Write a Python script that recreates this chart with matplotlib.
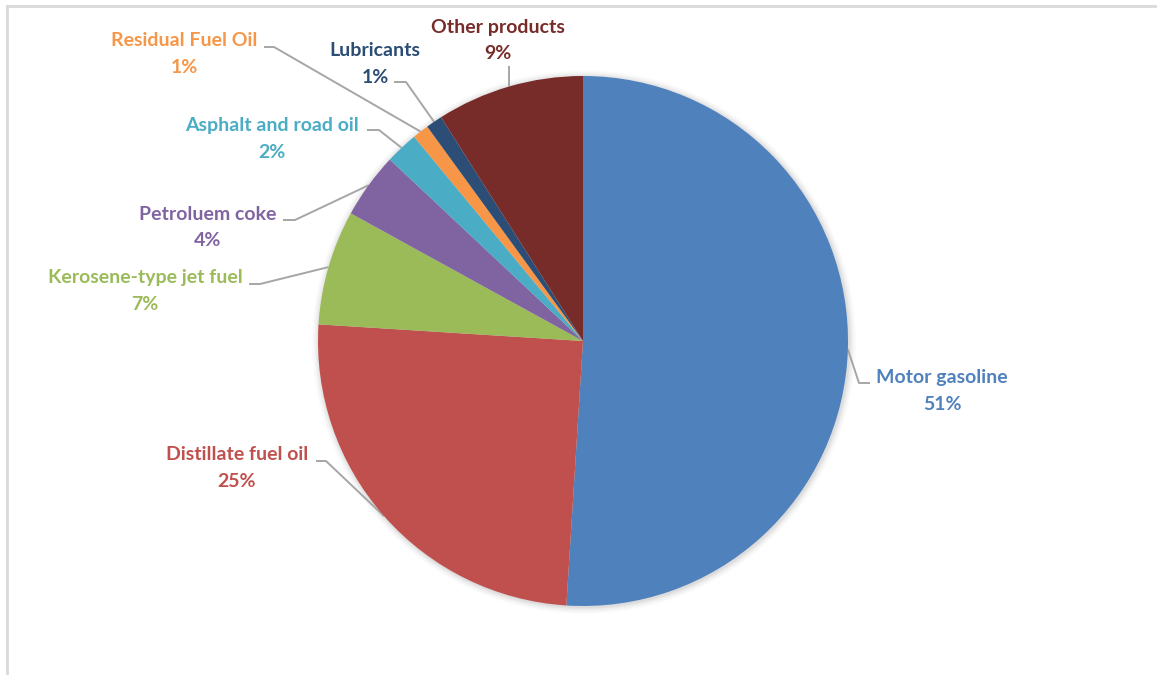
import numpy as np
import matplotlib
matplotlib.use("Agg")
import matplotlib.pyplot as plt
from matplotlib.patches import Circle

# Petroleum product shares (%)
products = ["Motor gasoline", "Distillate fuel oil", "Kerosene-type jet fuel",
            "Petroluem coke", "Asphalt and road oil", "Residual Fuel Oil",
            "Lubricants", "Other products"]
shares = [51, 25, 7, 4, 2, 1, 1, 9]
colors = ["#4F81BD", "#C0504D", "#9BBB59", "#8064A2", "#4BACC6",
          "#F79646", "#2C4D75", "#772C2A"]

W, H = 1157, 675
fig = plt.figure(figsize=(W / 100, H / 100), dpi=100)
ax = fig.add_axes([0, 0, 1, 1])

def py(y):
    # pixel row -> data y (origin bottom-left)
    return H - y

cx, cy, R = 583, py(341), 265

# soft shadow behind the pie
for i, a in enumerate([0.035, 0.03, 0.025, 0.02, 0.015, 0.01]):
    ax.add_patch(Circle((cx + 1, cy - 1), R + 1 + i * 1.2, color="black",
                        alpha=a, lw=0, zorder=0))

wedges, _ = ax.pie(shares, colors=colors, startangle=90, counterclock=False,
                   center=(cx, cy), radius=R, frame=True,
                   wedgeprops=dict(linewidth=0, antialiased=True))
for w in wedges:
    w.set_zorder(2)

# label layout: text centre (first line) and elbow of the leader line
layout = {
    "Motor gasoline":        dict(tx=942, ty=378, elbow=[(870, 383), (859, 383)]),
    "Distillate fuel oil":   dict(tx=237, ty=455, elbow=[(316, 461), (326, 461)]),
    "Kerosene-type jet fuel": dict(tx=145, ty=278, elbow=[(249, 284), (260, 284)]),
    "Petroluem coke":        dict(tx=208, ty=214, elbow=[(283, 220), (295, 220)]),
    "Asphalt and road oil":  dict(tx=272, ty=126, elbow=[(367, 130), (379, 130)]),
    "Residual Fuel Oil":     dict(tx=184, ty=41, elbow=[(264, 47), (274, 47)]),
    "Lubricants":            dict(tx=375, ty=51, elbow=[(394, 82), (406, 82)]),
    "Other products":        dict(tx=498, ty=27, elbow=[(509, 66)]),
}

font = dict(family=["Lato", "DejaVu Sans"], fontweight="bold", fontsize=14)
line_gap = 26.5

for w, name, val, col in zip(wedges, products, shares, colors):
    L = layout[name]
    mid = np.deg2rad((w.theta1 + w.theta2) / 2)
    ex, ey = cx + R * np.cos(mid), cy + R * np.sin(mid)
    xs = [p[0] for p in L["elbow"]] + [ex]
    ys = [py(p[1]) for p in L["elbow"]] + [ey]
    ax.plot(xs, ys, color="#A6A6A6", lw=1.4, zorder=1, solid_capstyle="butt")
    ax.text(L["tx"], py(L["ty"]), name, color=col, ha="center", va="center", **font)
    ax.text(L["tx"], py(L["ty"] + line_gap), f"{val}%", color=col,
            ha="center", va="center", **font)

# chart area border (top and left edges)
ax.plot([6.5, W], [py(5.5), py(5.5)], color="#D9D9D9", lw=2, zorder=3)
ax.plot([6.5, 6.5], [py(5.5), 0], color="#D9D9D9", lw=2, zorder=3)

ax.set_xlim(0, W)
ax.set_ylim(0, H)
ax.set_aspect("equal")
ax.axis("off")

fig.savefig("out.png", dpi=100, facecolor="white")
